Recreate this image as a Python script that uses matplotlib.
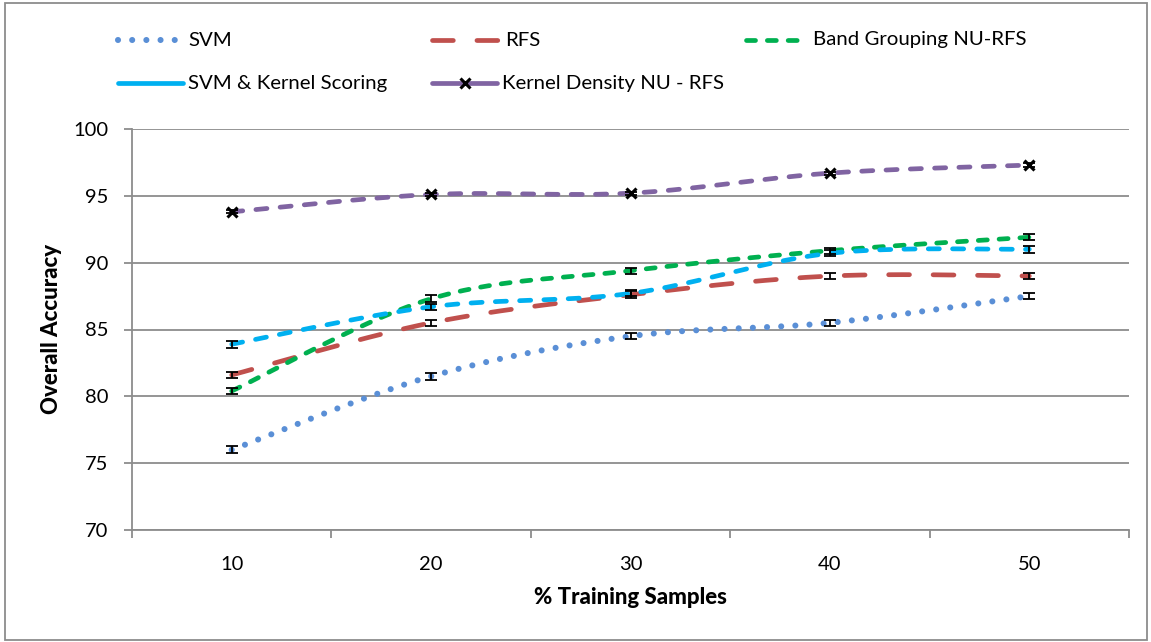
import numpy as np
import matplotlib
matplotlib.use("Agg")
import matplotlib.pyplot as plt
from matplotlib.lines import Line2D
from matplotlib.patches import Rectangle

plt.rcParams['font.family'] = ['Lato', 'DejaVu Sans']
plt.rcParams['lines.scale_dashes'] = False

# ---- data ----
train_pct = ["10", "20", "30", "40", "50"]
svm = [76.0, 81.5, 84.5, 85.5, 87.5]
rfs = [81.6, 85.5, 87.6, 89.0, 89.0]
band_nu_rfs = [80.4, 87.3, 89.4, 90.9, 91.9]
svm_kernel = [83.9, 86.7, 87.7, 90.7, 91.0]
kd_nu_rfs = [93.8, 95.1, 95.2, 96.7, 97.3]

svm_err = [0.25, 0.25, 0.22, 0.22, 0.25]
rfs_err = [0.25, 0.22, 0.25, 0.25, 0.22]
band_err = [0.25, 0.28, 0.22, 0.22, 0.22]
svmk_err = [0.25, 0.22, 0.22, 0.22, 0.25]
kd_err = [0.12, 0.12, 0.12, 0.12, 0.12]

W, H = 1151, 642
fig = plt.figure(figsize=(W / 100, H / 100), dpi=100)
ax = fig.add_axes([132 / W, 1 - 530 / H, (1129 - 132) / W, (530 - 129) / H])

GRID = '#8c8c8c'


def smooth(xs, ys, n=50):
    """Cubic Bezier smoothing through the points (Excel-like smoothed line)."""
    pts = np.column_stack([xs, ys]).astype(float)
    P = np.vstack([pts[0], pts, pts[-1]])
    out = []
    t = np.linspace(0, 1, n)[:, None]
    for i in range(1, len(P) - 2):
        p0, p1, p2, p3 = P[i - 1], P[i], P[i + 1], P[i + 2]
        c1 = p1 + (p2 - p0) / 6
        c2 = p2 - (p3 - p1) / 6
        seg = (1 - t) ** 3 * p1 + 3 * (1 - t) ** 2 * t * c1 + 3 * (1 - t) * t ** 2 * c2 + t ** 3 * p2
        out.append(seg if i == 1 else seg[1:])
    return np.vstack(out)


xs = np.arange(1, len(train_pct) + 1)
LW = 3.4
series = [
    (svm, svm_err, '#5A8FD6', (0, (0.01, 10.2)), 4.4),
    (rfs, rfs_err, '#C0504D', (0, (15, 17)), LW),
    (band_nu_rfs, band_err, '#00B050', (0, (6.5, 8.5)), LW),
    (svm_kernel, svmk_err, '#00B0F0', (0, (8, 9.5)), LW),
    (kd_nu_rfs, kd_err, '#8064A2', (0, (8, 9.5)), LW),
]

for vals, err, col, ls, lw in series:
    c = smooth(xs, vals)
    ax.plot(c[:, 0], c[:, 1], color=col, lw=lw, linestyle=ls,
            dash_capstyle='round', solid_capstyle='round', zorder=3)

for vals, err, col, ls, lw in series:
    ax.errorbar(xs, vals, yerr=err, fmt='none', ecolor='black', elinewidth=1.3,
                capsize=4.3, capthick=1.3, zorder=5)

ax.plot(xs, kd_nu_rfs, linestyle='none', marker='x', color='black',
        markersize=7.5, markeredgewidth=2.2, zorder=6)

# axes styling
ax.set_xlim(0.5, len(train_pct) + 0.5)
ax.set_ylim(70, 100)
ax.set_yticks(np.arange(70, 101, 5))
ax.set_xticks(np.arange(0.5, len(train_pct) + 1, 1.0))
ax.set_xticklabels([])
ax.set_xticks(xs, minor=True)
ax.set_xticklabels(train_pct, minor=True)
ax.tick_params(axis='x', which='major', length=6, width=1.3, color=GRID, direction='out')
ax.tick_params(axis='x', which='minor', length=0, pad=19, labelsize=14.5)
ax.tick_params(axis='y', length=6, width=1.3, color=GRID, direction='out', pad=11, labelsize=14.5)
ax.yaxis.grid(True, color=GRID, lw=1.3)
ax.set_axisbelow(True)
for s in ['top', 'right']:
    ax.spines[s].set_visible(False)
for s in ['left', 'bottom']:
    ax.spines[s].set_color(GRID)
    ax.spines[s].set_linewidth(1.3)

fig.text(52 / W, 1 - 329 / H, 'Overall Accuracy', rotation=90, ha='center', va='center',
         fontsize=16, fontweight='black')
fig.text(630 / W, 1 - 598 / H, '% Training Samples', ha='center', va='center',
         fontsize=16, fontweight='black')

# ---- legend ----
def fx(x):
    return x / W


def fy(y):
    return 1 - y / H


legend_items = [
    (118, 183, 40, 'SVM', '#5A8FD6', (0, (0.01, 10.2)), False, 4.4),
    (432, 500, 40, 'RFS', '#C0504D', (0, (15, 17)), False, LW),
    (746, 808, 40, 'Band Grouping NU-RFS', '#00B050', (0, (6.5, 8.5)), False, LW),
    (118, 183, 83, 'SVM & Kernel Scoring', '#00B0F0', '-', False, LW),
    (432, 497, 83, 'Kernel Density NU - RFS', '#8064A2', '-', True, LW),
]
for x0, x1, y, label, col, ls, mk, lw in legend_items:
    fig.add_artist(Line2D([fx(x0), fx(x1)], [fy(y), fy(y)], transform=fig.transFigure,
                          color=col, lw=lw, linestyle=ls, dash_capstyle='round',
                          solid_capstyle='round'))
    if mk:
        fig.add_artist(Line2D([fx((x0 + x1) / 2)], [fy(y)], transform=fig.transFigure,
                              marker='x', color='black', markersize=7.5, markeredgewidth=2.2))
    fig.text(fx(x1 + 5), fy(y), label, ha='left', va='center', fontsize=14.7)

# outer frame
fig.add_artist(Rectangle((5 / W, 1 - 640 / H), (1147 - 5) / W, (640 - 3) / H,
                         transform=fig.transFigure, fill=False, edgecolor='#8c8c8c', lw=1.3))

fig.savefig('out.png', dpi=100)
